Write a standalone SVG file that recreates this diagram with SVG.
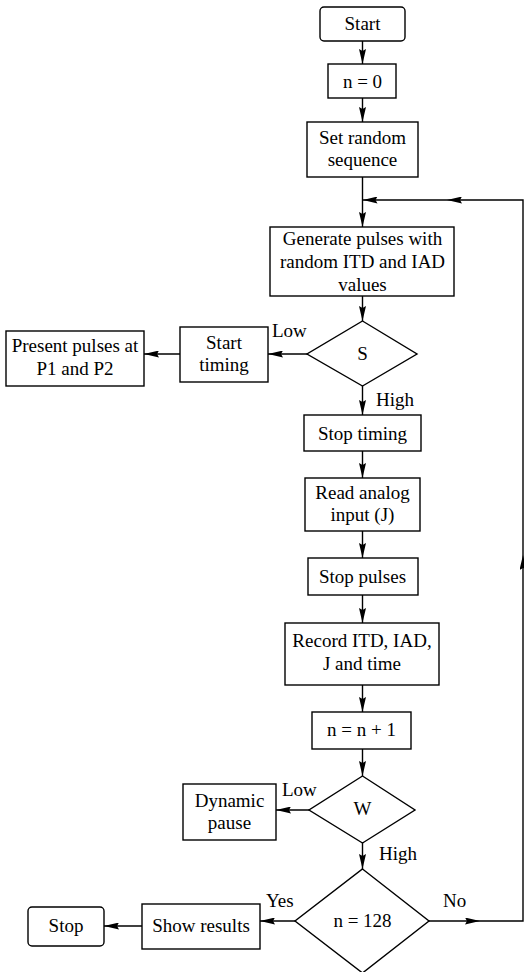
<svg xmlns="http://www.w3.org/2000/svg" width="524" height="972" viewBox="0 0 524 972">
<defs>
<marker id="ah" viewBox="0 0 15 7" refX="15" refY="3.5" markerWidth="15" markerHeight="7" markerUnits="userSpaceOnUse" orient="auto">
<path d="M0,0 L15,3.5 L0,7 L2,3.5 Z" fill="#000"/>
</marker>
<style>
.b{fill:#fff;stroke:#000;stroke-width:1.4}
.c{fill:none;stroke:#000;stroke-width:1.4}
.t{font-family:"Liberation Serif","Times New Roman",serif;font-size:19px;fill:#000;text-anchor:middle}
.l{font-family:"Liberation Serif","Times New Roman",serif;font-size:19px;fill:#000}
</style>
</defs>
<rect width="524" height="972" fill="#fff"/>
<g id="connectors">
<line class="c" x1="362.5" y1="41" x2="362.5" y2="64" marker-end="url(#ah)"/>
<line class="c" x1="362.5" y1="98" x2="362.5" y2="122" marker-end="url(#ah)"/>
<line class="c" x1="362.5" y1="177" x2="362.5" y2="227" marker-end="url(#ah)"/>
<line class="c" x1="362.5" y1="296" x2="362.5" y2="321" marker-end="url(#ah)"/>
<line class="c" x1="307" y1="354" x2="268" y2="354" marker-end="url(#ah)"/>
<line class="c" x1="180" y1="354" x2="144" y2="354" marker-end="url(#ah)"/>
<line class="c" x1="362.5" y1="386" x2="362.5" y2="415" marker-end="url(#ah)"/>
<line class="c" x1="362.5" y1="451" x2="362.5" y2="478" marker-end="url(#ah)"/>
<line class="c" x1="362.5" y1="531" x2="362.5" y2="558" marker-end="url(#ah)"/>
<line class="c" x1="362.5" y1="595" x2="362.5" y2="623" marker-end="url(#ah)"/>
<line class="c" x1="362.5" y1="685" x2="362.5" y2="712" marker-end="url(#ah)"/>
<line class="c" x1="362.5" y1="749" x2="362.5" y2="776" marker-end="url(#ah)"/>
<line class="c" x1="309" y1="810" x2="276" y2="810" marker-end="url(#ah)"/>
<line class="c" x1="362.5" y1="843" x2="362.5" y2="869" marker-end="url(#ah)"/>
<line class="c" x1="295" y1="921" x2="260" y2="921" marker-end="url(#ah)"/>
<line class="c" x1="142" y1="926" x2="104" y2="926" marker-end="url(#ah)"/>
<line class="c" x1="429" y1="921" x2="480" y2="921" marker-end="url(#ah)"/>
<path class="c" d="M480,921 H523 V555" marker-end="url(#ah)"/>
<path class="c" d="M523,555 V200 H447" marker-end="url(#ah)"/>
<line class="c" x1="447" y1="200" x2="362.5" y2="200" marker-end="url(#ah)"/>
<text class="l" x="272" y="337">Low</text>
<text class="l" x="376" y="406">High</text>
<text class="l" x="282" y="796">Low</text>
<text class="l" x="379" y="860">High</text>
<text class="l" x="266" y="907">Yes</text>
<text class="l" x="443" y="907">No</text>
</g>
<g id="start"><rect class="b" x="320" y="7" width="85" height="34" rx="4"/><text class="t" x="362.5" y="30">Start</text></g>
<g id="n0"><rect class="b" x="328" y="64" width="68" height="34"/><text class="t" x="362.5" y="87.5">n = 0</text></g>
<g id="setrandom"><rect class="b" x="307" y="122" width="111" height="55"/><text class="t" x="362.5" y="143.5">Set random<tspan x="362.5" y="166">sequence</tspan></text></g>
<g id="generate"><rect class="b" x="270" y="227" width="184" height="69"/><text class="t" x="362.5" y="244.5">Generate pulses with<tspan x="362.5" y="267.5">random ITD and IAD</tspan><tspan x="362.5" y="290.5">values</tspan></text></g>
<g id="s"><polygon class="b" points="362.5,321 417,354 362.5,386 307,354"/><text class="t" x="362.5" y="359.5">S</text></g>
<g id="starttiming"><rect class="b" x="180" y="327" width="88" height="55"/><text class="t" x="224" y="348.5">Start<tspan x="224" y="371">timing</tspan></text></g>
<g id="present"><rect class="b" x="6" y="331" width="138" height="55"/><text class="t" x="75" y="352">Present pulses at<tspan x="75" y="374.5">P1 and P2</tspan></text></g>
<g id="stoptiming"><rect class="b" x="304" y="415" width="117" height="36"/><text class="t" x="362.5" y="439.5">Stop timing</text></g>
<g id="readanalog"><rect class="b" x="305" y="478" width="115" height="53"/><text class="t" x="362.5" y="498.5">Read analog<tspan x="362.5" y="521">input (J)</tspan></text></g>
<g id="stoppulses"><rect class="b" x="308" y="558" width="110" height="37"/><text class="t" x="362.5" y="582.5">Stop pulses</text></g>
<g id="record"><rect class="b" x="285" y="623" width="154" height="62"/><text class="t" x="362" y="647">Record ITD, IAD,<tspan x="362" y="669.5">J and time</tspan></text></g>
<g id="ninc"><rect class="b" x="312" y="712" width="99" height="37"/><text class="t" x="361.5" y="736">n = n + 1</text></g>
<g id="w"><polygon class="b" points="362.5,776 415,810 362.5,843 309,810"/><text class="t" x="362.5" y="814.5">W</text></g>
<g id="dynamic"><rect class="b" x="183" y="784" width="93" height="56"/><text class="t" x="229.5" y="807">Dynamic<tspan x="229.5" y="828.5">pause</tspan></text></g>
<g id="n128"><polygon class="b" points="362.5,869 429,921 362.5,973 295,921"/><text class="t" x="362.5" y="927">n = 128</text></g>
<g id="showresults"><rect class="b" x="142" y="904" width="118" height="45"/><text class="t" x="201" y="932">Show results</text></g>
<g id="stop"><rect class="b" x="28" y="907" width="76" height="39" rx="4"/><text class="t" x="66" y="932">Stop</text></g>
</svg>
